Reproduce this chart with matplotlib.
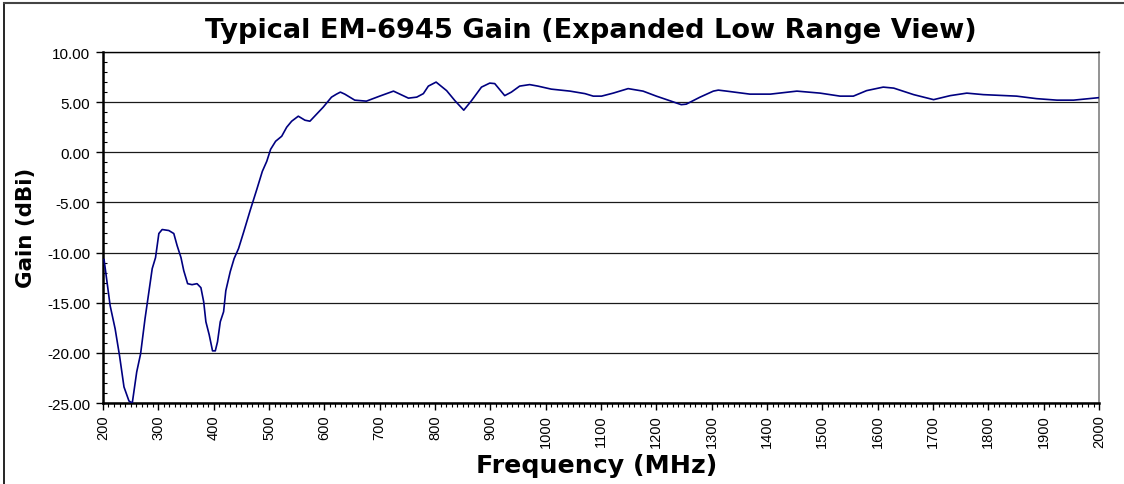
import numpy as np
import matplotlib
matplotlib.use('Agg')
import matplotlib.pyplot as plt
from matplotlib.ticker import MultipleLocator, FormatStrFormatter
from matplotlib.lines import Line2D

# ==========================================
# DATA
# ==========================================
freq_mhz = [
    202, 213, 222, 230, 238, 247, 253, 261, 268, 276, 282, 289, 295, 301,
    307, 319, 328, 334, 341, 346, 353, 361, 370, 377, 382, 386, 392, 398,
    403, 407, 412, 418, 422, 430, 437, 445, 454, 466, 478, 488, 496, 503,
    512, 523, 532, 541, 553, 565, 574, 586, 598, 613, 622, 629, 637, 655,
    676, 700, 725, 752, 767, 779, 788, 802, 821, 836, 852, 866, 884, 899,
    908, 926, 938, 953, 971, 986, 1010, 1044, 1071, 1086, 1101, 1122, 1149,
    1176, 1200, 1224, 1245, 1254, 1279, 1303, 1312, 1327, 1369, 1406, 1454,
    1496, 1532, 1556, 1580, 1610, 1629, 1665, 1701, 1731, 1761, 1791, 1851,
    1887, 1924, 1954, 2000,
]
gain_dbi = [
    -10.7, -15.3, -17.6, -20.3, -23.4, -24.8, -25.0, -21.9, -20.1, -16.6,
    -14.3, -11.6, -10.5, -8.1, -7.7, -7.8, -8.1, -9.3, -10.5, -11.8, -13.1,
    -13.2, -13.1, -13.5, -14.9, -16.9, -18.2, -19.8, -19.8, -18.9, -16.9,
    -15.9, -13.8, -11.9, -10.6, -9.6, -8.0, -5.8, -3.7, -1.9, -0.9, 0.3,
    1.1, 1.6, 2.5, 3.1, 3.6, 3.2, 3.1, 3.8, 4.5, 5.5, 5.8, 6.0, 5.8, 5.2,
    5.1, 5.6, 6.1, 5.4, 5.5, 5.85, 6.6, 7.0, 6.15, 5.15, 4.2, 5.15, 6.5,
    6.9, 6.85, 5.65, 6.0, 6.6, 6.75, 6.6, 6.3, 6.1, 5.85, 5.6, 5.6, 5.9,
    6.35, 6.1, 5.6, 5.15, 4.75, 4.8, 5.5, 6.1, 6.2, 6.1, 5.8, 5.8, 6.1,
    5.9, 5.6, 5.6, 6.15, 6.5, 6.4, 5.75, 5.25, 5.65, 5.9, 5.75, 5.6, 5.35,
    5.2, 5.2, 5.45,
]

TITLE = 'Typical EM-6945 Gain (Expanded Low Range View)'
XLABEL = 'Frequency (MHz)'
YLABEL = 'Gain (dBi)'

plt.rcParams['font.family'] = ['Liberation Sans', 'DejaVu Sans']
# the headings in the original are wide and heavy, DejaVu Bold is closer
HEAD_FONT = ['DejaVu Sans']

fig = plt.figure(figsize=(11.24, 4.85), dpi=100)
ax = fig.add_axes([0.0916, 0.167, 0.8862, 0.7237])

ax.plot(freq_mhz, gain_dbi, color='#000080', lw=1.2, zorder=3)

ax.set_xlim(200, 2000)
ax.set_ylim(-25, 10)
ax.xaxis.set_major_locator(MultipleLocator(100))
ax.xaxis.set_minor_locator(MultipleLocator(10))
ax.yaxis.set_major_locator(MultipleLocator(5))
ax.yaxis.set_minor_locator(MultipleLocator(1))
ax.yaxis.set_major_formatter(FormatStrFormatter('%.2f'))

ax.grid(axis='y', which='major', color='#1a1a1a', lw=0.9)
ax.tick_params(axis='x', which='major', labelrotation=90, labelsize=10.5,
               length=5, width=1, direction='out', pad=3)
ax.tick_params(axis='x', which='minor', length=3, width=0.8, direction='out')
ax.tick_params(axis='y', which='major', labelsize=11, length=5, width=1,
               direction='out', pad=4)
ax.tick_params(axis='y', which='minor', length=3, width=0.8, direction='in')

for side in ['left', 'bottom']:
    ax.spines[side].set_linewidth(1.8)
    ax.spines[side].set_color('black')
ax.spines['top'].set_linewidth(1.0)
ax.spines['top'].set_color('black')
ax.spines['right'].set_linewidth(1.2)
ax.spines['right'].set_color('#808080')

fig.text(0.5255, 0.936, TITLE, ha='center', va='center', fontsize=19.6,
         fontweight='bold', family=HEAD_FONT)
fig.text(0.5305, 0.040, XLABEL, ha='center', va='center', fontsize=18.2,
         fontweight='bold', family=HEAD_FONT)
fig.text(0.023, 0.53, YLABEL, ha='center', va='center', fontsize=15.4,
         fontweight='bold', rotation=90, family=HEAD_FONT)

# outer frame (left and top edge only, as in the reference crop)
fig.add_artist(Line2D([0.004, 0.004], [0, 0.992], transform=fig.transFigure,
                      color='black', lw=1.2))
fig.add_artist(Line2D([0.004, 1.0], [0.992, 0.992], transform=fig.transFigure,
                      color='#444444', lw=1.5))

fig.savefig('out.png', dpi=100)
